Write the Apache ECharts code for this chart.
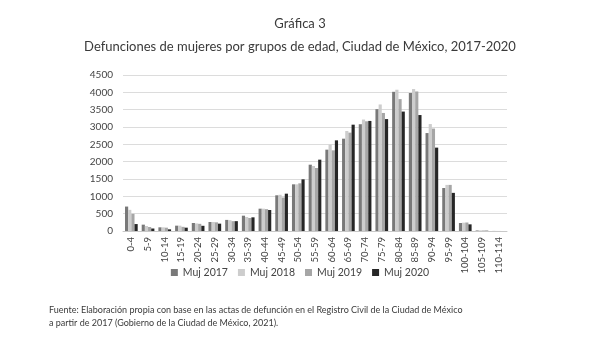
<!DOCTYPE html>
<html>
<head>
<meta charset="utf-8">
<script src="https://cdn.jsdelivr.net/npm/echarts@6/dist/echarts.min.js"></script>
<style>html,body{margin:0;padding:0;background:#fff;}#c{width:600px;height:356px;}</style>
</head>
<body>
<div id="c"></div>
<script>
var categories = ['0-4','5-9','10-14','15-19','20-24','25-29','30-34','35-39','40-44','45-49','50-54','55-59','60-64','65-69','70-74','75-79','80-84','85-89','90-94','95-99','100-104','105-109','110-114'];
var muj2017 = [705, 183, 106, 154, 231, 260, 320, 442, 644, 1030, 1346, 1913, 2346, 2663, 3080, 3515, 4015, 3980, 2825, 1240, 231, 15, 2];
var muj2018 = [610, 144, 106, 154, 218, 260, 312, 404, 644, 1045, 1346, 1875, 2490, 2885, 3215, 3650, 4075, 4095, 3085, 1330, 240, 18, 2];
var muj2019 = [495, 115, 96, 120, 207, 250, 284, 375, 630, 965, 1375, 1817, 2327, 2837, 3165, 3405, 3805, 4025, 2955, 1330, 245, 15, 1];
var muj2020 = [200, 72, 48, 96, 150, 212, 284, 394, 606, 1077, 1490, 2058, 2615, 3067, 3175, 3228, 3445, 3345, 2405, 1100, 192, 8, 0];
var seriesNames = ['Muj 2017', 'Muj 2018', 'Muj 2019', 'Muj 2020'];
var yTicks = [0, 500, 1000, 1500, 2000, 2500, 3000, 3500, 4000, 4500];

var colors = ['#797979', '#cdcdcd', '#a6a6a6', '#262626'];
var values = [muj2017, muj2018, muj2019, muj2020];
var font = 'Lato, "Open Sans", sans-serif';

var chart = echarts.init(document.getElementById('c'), null, {renderer: 'canvas'});
chart.setOption({
  animation: false,
  backgroundColor: '#ffffff',
  textStyle: {fontFamily: font},
  title: [
    {text: 'Gráfica 3', left: 'center', top: 12, textStyle: {fontFamily: font, fontSize: 13, fontWeight: 'normal', color: '#3a3a3a'}},
    {text: 'Defunciones de mujeres por grupos de edad, Ciudad de México, 2017-2020', left: 'center', top: 35, textStyle: {fontFamily: font, fontSize: 13, fontWeight: 'normal', color: '#3a3a3a'}},
    {text: 'Fuente: Elaboración propia con base en las actas de defunción en el Registro Civil de la Ciudad de México\na partir de 2017 (Gobierno de la Ciudad de México, 2021).', left: 44, top: 299, textStyle: {fontFamily: font, fontSize: 9, fontWeight: 'normal', color: '#3a3a3a', lineHeight: 13}}
  ],
  legend: {
    data: seriesNames,
    left: 'center',
    top: 262,
    itemWidth: 7,
    itemHeight: 7,
    itemGap: 10,
    icon: 'rect',
    textStyle: {fontFamily: font, fontSize: 10.5, color: '#444'}
  },
  grid: {left: 123, right: 93, top: 75, bottom: 125, containLabel: false},
  xAxis: {
    type: 'category',
    data: categories,
    axisLine: {show: true, lineStyle: {color: '#c8c8c8'}},
    axisTick: {show: false},
    axisLabel: {rotate: 90, fontFamily: font, fontSize: 9.5, color: '#444', interval: 0, margin: 6}
  },
  yAxis: {
    type: 'value',
    min: yTicks[0],
    max: yTicks[yTicks.length - 1],
    interval: 500,
    axisLine: {show: false},
    axisTick: {show: false},
    splitLine: {lineStyle: {color: '#dcdcdc', width: 1}},
    axisLabel: {fontFamily: font, fontSize: 10, color: '#444', margin: 10, formatter: function (v) { return String(v); }}
  },
  series: seriesNames.map(function (n, i) {
    return {
      name: n,
      type: 'bar',
      data: values[i],
      barGap: '0%',
      barCategoryGap: '24%',
      itemStyle: {color: colors[i]}
    };
  })
});
</script>
</body>
</html>
